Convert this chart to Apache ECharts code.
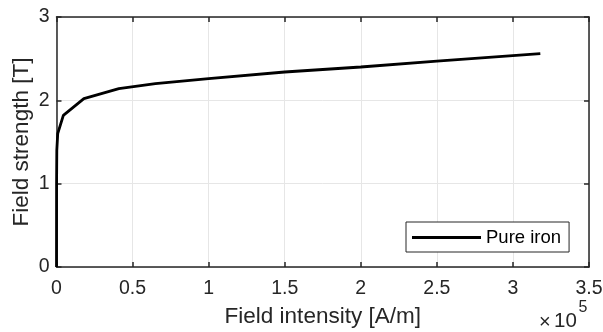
<!DOCTYPE html>
<html>
<head>
<meta charset="utf-8">
<script src="https://cdn.jsdelivr.net/npm/echarts@6/dist/echarts.min.js"></script>
<style>html,body{margin:0;padding:0;background:#fff;}#c{width:603px;height:332px;}</style>
</head>
<body>
<div id="c"></div>
<script>
// Field intensity in units of 1e5 A/m
var fieldIntensity = [0, 0.0005, 0.002, 0.008, 0.045, 0.18, 0.41, 0.65, 1.0, 1.5, 2.0, 2.5, 3.18];
var fieldStrength  = [0, 1.0, 1.4, 1.6, 1.82, 2.02, 2.14, 2.20, 2.26, 2.34, 2.40, 2.47, 2.56];
var xTicks = [0, 0.5, 1, 1.5, 2, 2.5, 3, 3.5];
var yTicks = [0, 1, 2, 3];
var seriesName = 'Pure iron';
var exponentBase = '10';
var exponentPower = '5';

var data = fieldIntensity.map(function (x, i) { return [x, fieldStrength[i]]; });
var font = 'Liberation Sans, Arial, Helvetica, sans-serif';
var axisColor = '#262626';
var tickFont = 19.5;
var labelFont = 22.5;
var chart = echarts.init(document.getElementById('c'));
function frameAxis(extra) {
  var base = {
    type: 'value',
    axisLine: { show: true, onZero: false, lineStyle: { color: axisColor, width: 1.5 } },
    axisTick: { show: true, inside: true, length: 5, lineStyle: { color: axisColor, width: 1.5 } },
    axisLabel: { show: false }, splitLine: { show: false }
  };
  for (var k in extra) base[k] = extra[k];
  return base;
}
chart.setOption({
  animation: false,
  grid: { left: 56.5, right: 14, top: 17, bottom: 65, containLabel: false, outerBoundsMode: 'none' },
  legend: {
    data: [seriesName],
    left: 406, top: 222,
    orient: 'vertical',
    backgroundColor: '#fff',
    borderColor: '#262626',
    borderWidth: 1,
    borderRadius: 0,
    padding: [6, 8, 5, 6],
    itemWidth: 69, itemHeight: 3, itemGap: 4,
    icon: 'rect',
    textStyle: { fontFamily: font, fontSize: 18.5, color: '#000' }
  },
  xAxis: [{
    type: 'value', min: 0, max: 3.5, interval: 0.5,
    name: 'Field intensity [A/m]', nameLocation: 'middle', nameGap: 38, nameMoveOverlap: false,
    nameTextStyle: { fontFamily: font, fontSize: labelFont, color: '#262626' },
    axisLine: { show: true, onZero: false, lineStyle: { color: axisColor, width: 1.5 } },
    axisTick: { show: true, inside: true, length: 5, lineStyle: { color: axisColor, width: 1.5 } },
    axisLabel: { fontFamily: font, fontSize: tickFont, color: '#262626', margin: 12,
      formatter: function (v) { return String(v); } },
    splitLine: { show: true, lineStyle: { color: '#e6e6e6', width: 1 } }
  }, frameAxis({ min: 0, max: 3.5, interval: 0.5, position: 'top' })],
  yAxis: [{
    type: 'value', min: 0, max: 3, interval: 1,
    name: 'Field strength [T]', nameLocation: 'middle', nameGap: 23, nameMoveOverlap: false,
    nameTextStyle: { fontFamily: font, fontSize: labelFont, color: '#262626' },
    axisLine: { show: true, onZero: false, lineStyle: { color: axisColor, width: 1.5 } },
    axisTick: { show: true, inside: true, length: 5, lineStyle: { color: axisColor, width: 1.5 } },
    axisLabel: { fontFamily: font, fontSize: tickFont, color: '#262626', margin: 7 },
    splitLine: { show: true, lineStyle: { color: '#e6e6e6', width: 1 } }
  }, frameAxis({ min: 0, max: 3, interval: 1, position: 'right' })],
  graphic: [
    { type: 'text', x: 539, y: 322, style: { text: '\u00d7', fontFamily: font, fontSize: 20, fill: '#262626', verticalAlign: 'middle' } },
    { type: 'text', x: 554, y: 321.5, style: { text: exponentBase, fontFamily: font, fontSize: 20.5, fill: '#262626', verticalAlign: 'middle' } },
    { type: 'text', x: 578.5, y: 308, style: { text: exponentPower, fontFamily: font, fontSize: 16, fill: '#262626', verticalAlign: 'middle' } }
  ],
  series: [{
    name: seriesName, type: 'line', data: data,
    showSymbol: false, symbol: 'none',
    lineStyle: { color: '#000', width: 2.8 },
    itemStyle: { color: '#000' }
  }]
});
</script>
</body>
</html>
